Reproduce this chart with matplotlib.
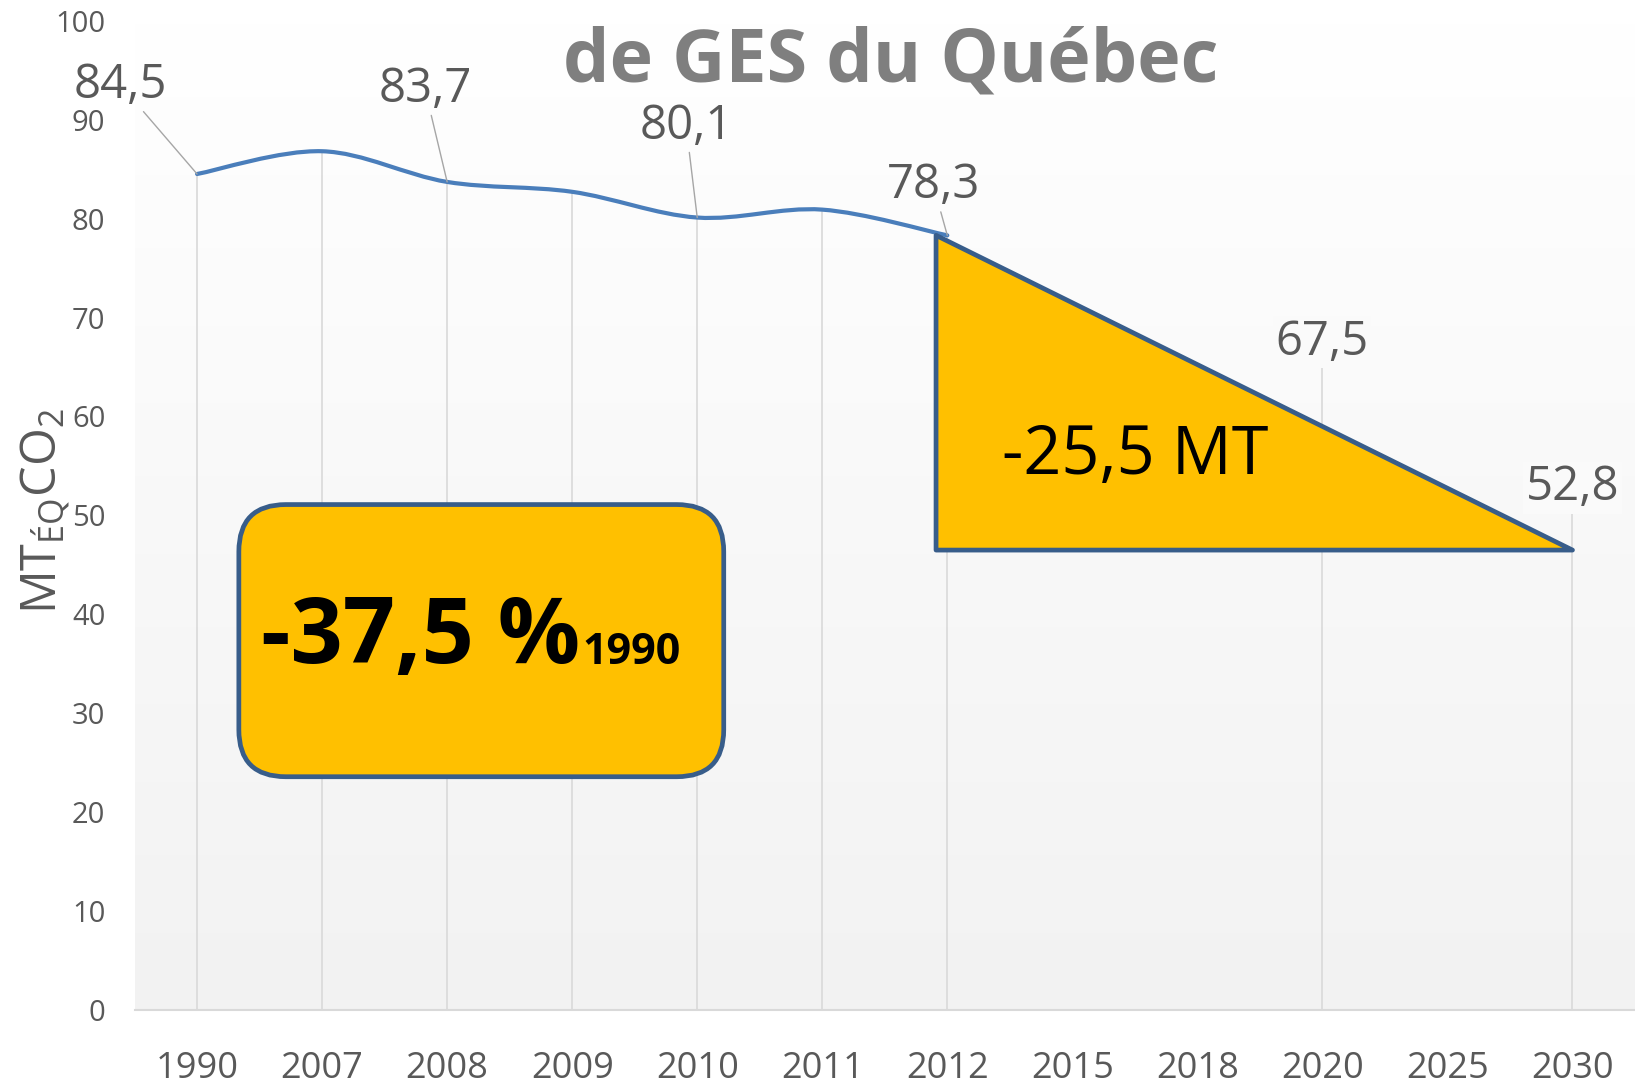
import matplotlib
matplotlib.use('Agg')
import matplotlib.pyplot as plt
import numpy as np
from matplotlib.path import Path
from matplotlib.patches import PathPatch, Polygon, FancyBboxPatch
from matplotlib.colors import LinearSegmentedColormap
from matplotlib.transforms import IdentityTransform

plt.rcParams['font.family'] = ['Open Sans', 'DejaVu Sans']

# data
annees = ['1990', '2007', '2008', '2009', '2010', '2011', '2012',
          '2015', '2018', '2020', '2025', '2030']
historique = [84.5, 86.8, 83.7, 82.7, 80.1, 80.9, 78.3]   # 1990-2012
cibles_annees = ['2020', '2030']
cibles = [67.5, 52.8]
base_triangle = 46.5
reduction_mt = 25.5
reduction_pct = 37.5

gris = '#595959'
bleu = '#4a7ebb'
orange = '#ffc000'
contour = '#385d8a'

fig = plt.figure(figsize=(16.35, 10.84), dpi=100)
ax = fig.add_axes([0.0823, 0.068, 0.9177, 0.913])
ax.set_xlim(-0.5, len(annees) - 0.5)
ax.set_ylim(0, 100)

# fond en degrade
cmap = LinearSegmentedColormap.from_list('bg', ['#f2f2f2', '#ffffff'])
ax.imshow(np.linspace(0, 1, 256)[:, None], extent=[-0.5, len(annees) - 0.5, 0, 100],
          origin='lower', aspect='auto', cmap=cmap, zorder=0)

# lignes de projection
x_hist = np.arange(len(historique))
x_cib = [annees.index(a) for a in cibles_annees]
ax.vlines(x_hist, 0, historique, color='#d9d9d9', lw=1.2, zorder=1)
ax.vlines(x_cib, 0, cibles, color='#d9d9d9', lw=1.2, zorder=1)

# courbe lissee (catmull-rom -> bezier)
pts = np.column_stack([x_hist, historique]).astype(float)
verts = [pts[0]]
codes = [Path.MOVETO]
for i in range(len(pts) - 1):
    p0 = pts[max(i - 1, 0)]
    p1 = pts[i]
    p2 = pts[i + 1]
    p3 = pts[min(i + 2, len(pts) - 1)]
    verts += [p1 + (p2 - p0) / 6, p2 - (p3 - p1) / 6, p2]
    codes += [Path.CURVE4] * 3
ax.add_patch(PathPatch(Path(verts, codes), fill=False, edgecolor=bleu, lw=3,
                       capstyle='round', zorder=3))

# triangle
i12 = annees.index('2012')
i30 = annees.index('2030')
tri = Polygon([[i12 - 0.09, historique[-1]], [i30, base_triangle], [i12 - 0.09, base_triangle]],
              closed=True, facecolor=orange, edgecolor=contour, lw=3.4, joinstyle='round', zorder=4)
ax.add_patch(tri)
ax.text((i12 + i30) / 2 - 1, 56.0, ('-%.1f MT' % reduction_mt).replace('.', ','),
        fontsize=48, color='black', ha='center', va='center', zorder=6)

# etiquettes
fmt = lambda v: ('%.1f' % v).replace('.', ',')
decal = {0: (-55, 64), 2: (-16, 67), 4: (-8, 66), 6: (-10, 36)}
for i, (dx, dy) in decal.items():
    ax.annotate(fmt(historique[i]), xy=(i, historique[i]), xytext=(dx, dy),
                textcoords='offset points', ha='center', va='center',
                fontsize=34, color=gris, zorder=7,
                arrowprops=dict(arrowstyle='-', color='#a6a6a6', lw=1,
                                shrinkA=0, shrinkB=0))
for x, v in zip(x_cib, cibles):
    ax.text(x, v, fmt(v), ha='center', va='center', fontsize=34, color=gris, zorder=5,
            bbox=dict(boxstyle='square,pad=0.05', facecolor='#fafafa', edgecolor='none'))

# boite arrondie
fig.canvas.draw()
(x0, y0), (x1, y1) = ax.transData.transform([(0.334, 23.6), (4.212, 51.1)])
boite = FancyBboxPatch((x0 + 47, y0 + 47), x1 - x0 - 94, y1 - y0 - 94,
                       boxstyle='round,pad=47,rounding_size=47',
                       transform=IdentityTransform(), facecolor=orange,
                       edgecolor=contour, lw=3.4, zorder=5)
ax.add_artist(boite)
t = ax.text(0.509, 35.1, ('-%.1f %%' % reduction_pct).replace('.', ','),
            fontsize=66, fontweight='bold', color='black', ha='left', va='baseline', zorder=8)
ax.annotate(annees[0], xy=(1, 0), xycoords=t, xytext=(2, 8), textcoords='offset points',
            fontsize=31, fontweight='bold', color='black', ha='left', va='bottom', zorder=8)

# axes
ax.set_xticks(range(len(annees)))
ax.set_xticklabels(annees)
ax.set_yticks(range(0, 101, 10))
ax.tick_params(axis='x', length=0, pad=29, labelsize=26, labelcolor=gris)
ax.tick_params(axis='y', length=0, pad=21, labelsize=21, labelcolor=gris)
for s in ['top', 'right', 'left']:
    ax.spines[s].set_visible(False)
ax.spines['bottom'].set_color('#d9d9d9')
ax.spines['bottom'].set_linewidth(1.5)

ax.set_ylabel(r'MT$_{\mathregular{ÉQ}}$CO$_{\mathregular{2}}$', fontsize=35, color=gris)
ax.yaxis.set_label_coords(-0.042, 0.505)

fig.text(0.545, 0.925, 'de GES du Québec', fontsize=53, fontweight='bold',
         color='#7f7f7f', ha='center', va='baseline')

fig.savefig('out.png', dpi=100)
